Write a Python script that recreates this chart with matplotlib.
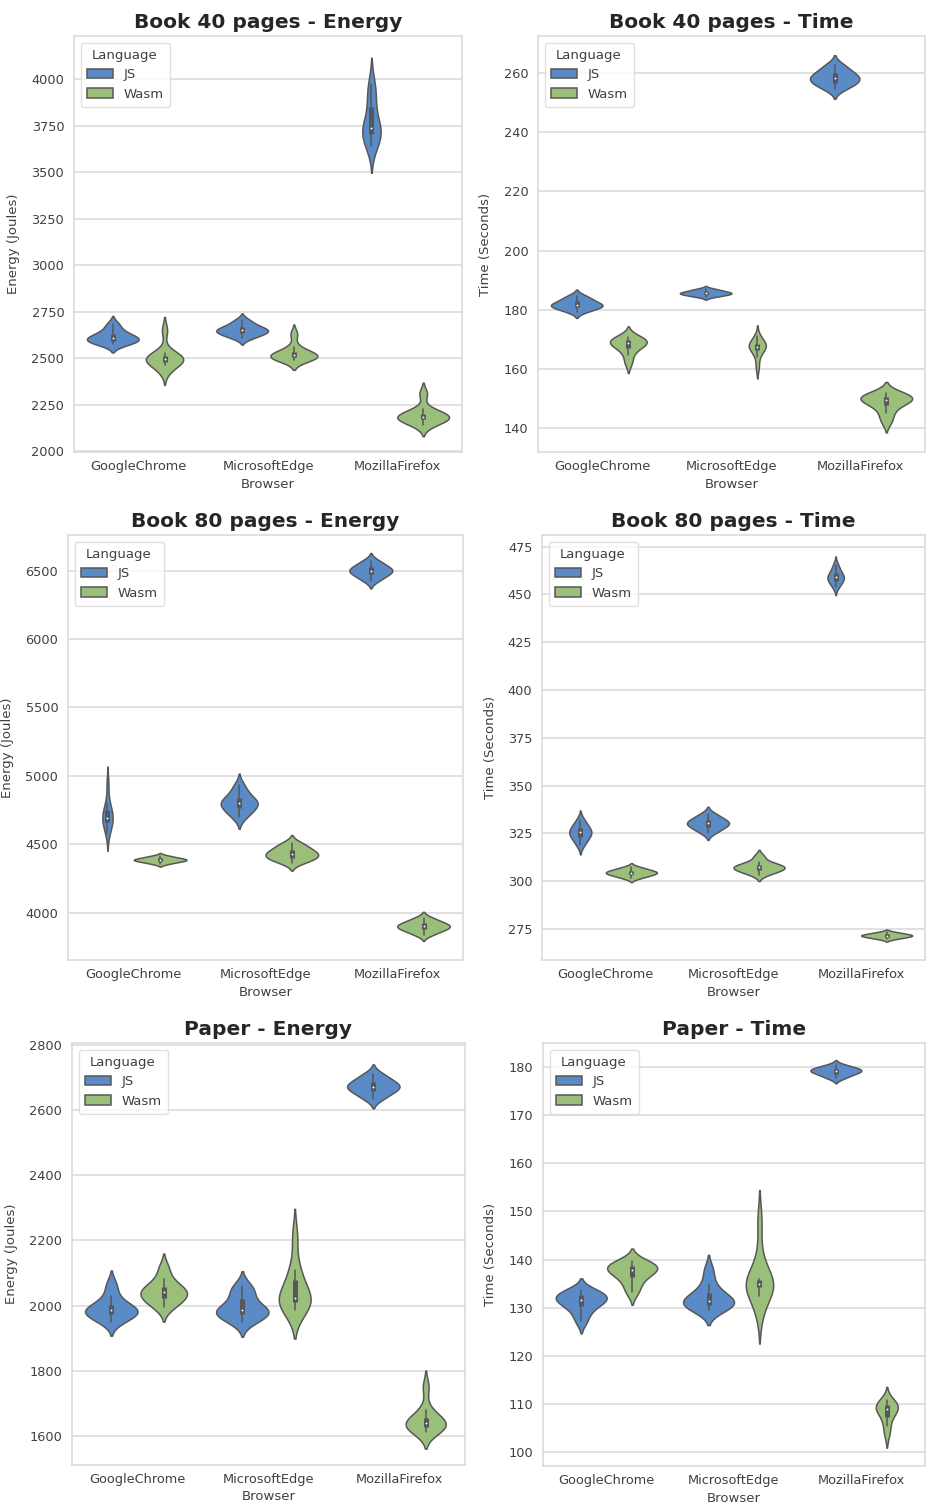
import colorsys

import matplotlib
matplotlib.use("Agg")
import matplotlib.pyplot as plt
import numpy as np
import seaborn as sns
from matplotlib.patches import Patch

browsers = ["GoogleChrome", "MicrosoftEdge", "MozillaFirefox"]
languages = ["JS", "Wasm"]
colors = {"JS": "#5a8bc7", "Wasm": "#9abf7b"}

# runs per browser, in the order Chrome, Edge, Firefox
book40_energy_js = [
    [2575, 2582, 2592, 2600, 2606, 2612, 2620, 2635, 2655, 2685],
    [2610, 2622, 2634, 2642, 2647, 2653, 2660, 2670, 2685, 2705],
    [3640, 3672, 3700, 3718, 3730, 3745, 3790, 3870, 3930, 3975],
]
book40_energy_wasm = [
    [2430, 2465, 2480, 2488, 2492, 2497, 2505, 2515, 2530, 2650],
    [2490, 2496, 2504, 2509, 2513, 2518, 2524, 2535, 2560, 2630],
    [2140, 2158, 2170, 2178, 2183, 2188, 2194, 2205, 2225, 2310],
]
book40_time_js = [
    [179.3, 180.2, 180.8, 181.2, 181.5, 181.7, 182.4, 183.0, 183.8, 184.7],
    [184.4, 184.8, 185.1, 185.4, 185.5, 185.7, 185.9, 186.2, 186.6, 187.0],
    [254.5, 255.8, 256.6, 257.3, 258.0, 258.6, 259.3, 260.1, 261.4, 262.8],
]
book40_time_wasm = [
    [162.0, 164.8, 166.8, 167.9, 168.4, 168.8, 169.3, 169.8, 170.3, 170.9],
    [160.5, 164.0, 166.3, 167.0, 167.4, 167.7, 168.1, 168.6, 169.5, 171.0],
    [142.3, 145.0, 147.3, 148.6, 149.3, 149.8, 150.2, 150.7, 151.2, 151.8],
]
book80_energy_js = [
    [4580, 4625, 4660, 4680, 4690, 4700, 4730, 4760, 4800, 4940],
    [4700, 4730, 4760, 4780, 4795, 4805, 4820, 4845, 4880, 4930],
    [6427, 6451, 6471, 6486, 6496, 6505, 6515, 6530, 6550, 6573],
]
book80_energy_wasm = [
    [4358, 4368, 4376, 4381, 4384, 4388, 4392, 4398, 4405, 4415],
    [4365, 4385, 4400, 4412, 4422, 4435, 4448, 4465, 4485, 4510],
    [3840, 3860, 3876, 3888, 3896, 3904, 3912, 3924, 3940, 3960],
]
book80_time_js = [
    [319.0, 321.2, 322.9, 324.2, 325.1, 326.0, 326.9, 328.1, 329.9, 332.0],
    [325.4, 327.0, 328.3, 329.3, 330.0, 330.6, 331.3, 332.3, 333.6, 335.2],
    [454.0, 455.6, 457.0, 458.0, 458.7, 459.3, 460.2, 461.5, 463.2, 465.5],
]
book80_time_wasm = [
    [301.7, 302.6, 303.4, 303.9, 304.3, 304.7, 305.1, 305.6, 306.4, 307.3],
    [303.5, 304.8, 305.8, 306.5, 307.0, 307.5, 308.0, 308.8, 310.0, 313.0],
    [269.8, 270.4, 270.9, 271.2, 271.5, 271.7, 272.0, 272.3, 272.8, 273.4],
]
paper_energy_js = [
    [1950, 1962, 1972, 1979, 1983, 1988, 1994, 2005, 2030, 2065],
    [1950, 1962, 1972, 1980, 1984, 1988, 2000, 2025, 2045, 2060],
    [2634, 2646, 2657, 2664, 2669, 2674, 2680, 2687, 2698, 2710],
]
paper_energy_wasm = [
    [1995, 2008, 2020, 2030, 2037, 2043, 2050, 2060, 2080, 2115],
    [1985, 1995, 2010, 2018, 2020, 2025, 2045, 2090, 2110, 2210],
    [1612, 1618, 1626, 1633, 1637, 1642, 1648, 1658, 1680, 1750],
]
paper_time_js = [
    [127.2, 129.0, 130.2, 131.0, 131.4, 131.8, 132.3, 132.7, 133.2, 133.6],
    [129.6, 130.0, 130.5, 131.0, 131.3, 131.7, 132.3, 133.2, 135.0, 137.8],
    [177.6, 178.1, 178.5, 178.8, 179.0, 179.2, 179.4, 179.6, 179.9, 180.3],
]
paper_time_wasm = [
    [133.2, 134.8, 136.2, 137.0, 137.6, 138.0, 138.4, 138.8, 139.2, 139.7],
    [129.0, 132.5, 134.3, 134.6, 134.9, 135.1, 135.4, 136.0, 140.5, 148.0],
    [103.8, 105.5, 107.2, 108.2, 108.8, 109.2, 109.5, 109.9, 110.3, 110.8],
]

sns.set_style("whitegrid")
plt.rcParams["font.family"] = ["DejaVu Sans"]

# outline gray, as seaborn derives it from the palette
lum = min(colorsys.rgb_to_hls(*matplotlib.colors.to_rgb(c))[1] for c in colors.values()) * 0.6
gray = matplotlib.colors.rgb2hex((lum, lum, lum))
LW = 1.1


def kde(vals, cut=2, gridsize=100):
    vals = np.asarray(vals, float)
    n = len(vals)
    bw = n ** (-1 / 5) * vals.std(ddof=1)
    grid = np.linspace(vals.min() - cut * bw, vals.max() + cut * bw, gridsize)
    z = (grid[:, None] - vals[None, :]) / bw
    dens = np.exp(-0.5 * z ** 2).sum(1) / (n * bw * np.sqrt(2 * np.pi))
    return grid, dens


def draw_box(ax, center, vals):
    vals = np.asarray(vals, float)
    q25, q50, q75 = np.percentile(vals, [25, 50, 75])
    lim = 1.5 * (q75 - q25)
    lo = vals[vals >= q25 - lim].min()
    hi = vals[vals <= q75 + lim].max()
    ax.plot([center, center], [lo, hi], color=gray, lw=LW, zorder=2)
    ax.plot([center, center], [q25, q75], color=gray, lw=LW * 3.3,
            solid_capstyle="butt", zorder=2)
    ax.scatter([center], [q50], s=(LW * 2) ** 2, color="white",
               edgecolor=gray, linewidth=0.8, zorder=3)


def violins(ax, js, wasm):
    for i in range(len(browsers)):
        curves = [kde(js[i]), kde(wasm[i])]
        peak = max(d.max() for _, d in curves)
        for k, lang in enumerate(languages):
            center = i + (-0.2 if k == 0 else 0.2)
            grid, dens = curves[k]
            half = dens / peak * 0.2
            ax.fill_betweenx(grid, center - half, center + half,
                             facecolor=colors[lang], edgecolor=gray,
                             linewidth=LW, zorder=1)
            draw_box(ax, center, (js, wasm)[k][i])


def px_rect(x0, y0, x1, y1, W=926, H=1504):
    return [x0 / W, 1 - y1 / H, (x1 - x0) / W, (y1 - y0) / H]


panels = [
    ("Book 40 pages - Energy", "Energy (Joules)", book40_energy_js, book40_energy_wasm,
     np.arange(2000, 4001, 250), (1996, 4234), (74, 36, 462, 452)),
    ("Book 40 pages - Time", "Time (Seconds)", book40_time_js, book40_time_wasm,
     np.arange(140, 261, 20), (131.9, 272.5), (538, 36, 925, 452)),
    ("Book 80 pages - Energy", "Energy (Joules)", book80_energy_js, book80_energy_wasm,
     np.arange(4000, 6501, 500), (3654, 6761), (68, 535, 463, 960)),
    ("Book 80 pages - Time", "Time (Seconds)", book80_time_js, book80_time_wasm,
     np.arange(275, 476, 25), (258.8, 481.1), (542, 535, 925, 960)),
    ("Paper - Energy", "Energy (Joules)", paper_energy_js, paper_energy_wasm,
     np.arange(1600, 2801, 200), (1511, 2805), (72, 1043, 465, 1465)),
    ("Paper - Time", "Time (Seconds)", paper_time_js, paper_time_wasm,
     np.arange(100, 181, 10), (97.2, 184.9), (543, 1043, 925, 1466)),
]

fig = plt.figure(figsize=(9.26, 15.04), dpi=100)
for title, ylabel, js, wasm, yticks, ylim, box in panels:
    ax = fig.add_axes(px_rect(*box))
    violins(ax, js, wasm)
    ax.set_xlim(-0.5, 2.5)
    ax.set_ylim(*ylim)
    ax.set_xticks(range(len(browsers)))
    ax.set_xticklabels(browsers)
    ax.set_yticks(yticks)
    ax.xaxis.grid(False)
    ax.yaxis.grid(True, color=".85", lw=1.1)
    ax.set_axisbelow(True)
    for s in ax.spines.values():
        s.set_color(".85")
        s.set_linewidth(1.1)
    ax.tick_params(axis="both", labelsize=9.3, colors=".25", length=0)
    ax.tick_params(axis="y", pad=7)
    ax.tick_params(axis="x", pad=6)
    ax.set_xlabel("Browser", fontsize=9.5, color=".25", labelpad=3)
    ax.set_ylabel(ylabel, fontsize=9.5, color=".25", labelpad=8)
    ax.set_title(title, fontsize=14.5, fontweight="bold", color=".15", pad=6)
    handles = [Patch(facecolor=colors[l], edgecolor=gray, linewidth=LW, label=l)
               for l in languages]
    leg = ax.legend(handles=handles, title="Language", loc="upper left",
                    fontsize=9.5, title_fontsize=9.5, frameon=True,
                    handlelength=2.0, handleheight=0.7, labelspacing=0.5,
                    borderpad=0.45)
    leg.get_frame().set_edgecolor(".85")
    for t in leg.get_texts():
        t.set_color(".25")
    leg.get_title().set_color(".25")

fig.savefig("out.png", dpi=100, facecolor="white")
